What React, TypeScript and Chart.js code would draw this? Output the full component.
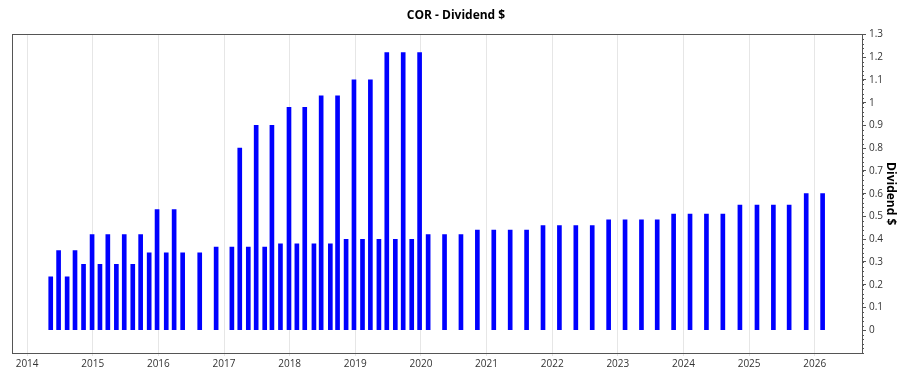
import React, { useEffect, useRef } from "react";
import { Chart, registerables } from "chart.js";

Chart.register(...registerables);

const TITLE = "COR - Dividend $";
const Y_TITLE = "Dividend $";

// payment dates as decimal years
const payDates = [
  2014.36, 2014.48, 2014.61, 2014.73, 2014.86, 2014.99, 2015.11, 2015.23, 2015.36, 2015.48,
  2015.61, 2015.73, 2015.86, 2015.98, 2016.12, 2016.24, 2016.37, 2016.63, 2016.88, 2017.12,
  2017.24, 2017.37, 2017.49, 2017.62, 2017.73, 2017.86, 2017.99, 2018.11, 2018.23, 2018.37,
  2018.48, 2018.62, 2018.73, 2018.86, 2018.98, 2019.11, 2019.23, 2019.36, 2019.48, 2019.61,
  2019.73, 2019.86, 2019.98, 2020.11, 2020.36, 2020.61, 2020.86, 2021.11, 2021.36, 2021.61,
  2021.86, 2022.11, 2022.36, 2022.61, 2022.86, 2023.11, 2023.36, 2023.6, 2023.85, 2024.1,
  2024.35, 2024.6, 2024.86, 2025.12, 2025.37, 2025.61, 2025.87, 2026.12,
];

const dividends = [
  0.235, 0.35, 0.235, 0.35, 0.29, 0.42, 0.29, 0.42, 0.29, 0.42,
  0.29, 0.42, 0.34, 0.53, 0.34, 0.53, 0.34, 0.34, 0.365, 0.365,
  0.8, 0.365, 0.9, 0.365, 0.9, 0.38, 0.98, 0.38, 0.98, 0.38,
  1.03, 0.38, 1.03, 0.4, 1.1, 0.4, 1.1, 0.4, 1.22, 0.4,
  1.22, 0.4, 1.22, 0.42, 0.42, 0.42, 0.44, 0.44, 0.44, 0.44,
  0.46, 0.46, 0.46, 0.46, 0.485, 0.485, 0.485, 0.485, 0.51, 0.51,
  0.51, 0.51, 0.55, 0.55, 0.55, 0.55, 0.6, 0.6,
];

const yearTicks = [2014, 2015, 2016, 2017, 2018, 2019, 2020, 2021, 2022, 2023, 2024, 2025, 2026];
const yTicks = [0, 0.1, 0.2, 0.3, 0.4, 0.5, 0.6, 0.7, 0.8, 0.9, 1, 1.1, 1.2, 1.3];

const framePlugin = {
  id: "frame",
  afterDraw(chart: any) {
    const { ctx, chartArea } = chart;
    ctx.save();
    ctx.strokeStyle = "#555";
    ctx.lineWidth = 1;
    ctx.strokeRect(
      Math.round(chartArea.left) + 0.5,
      Math.round(chartArea.top) + 0.5,
      Math.round(chartArea.right - chartArea.left),
      Math.round(chartArea.bottom - chartArea.top)
    );
    // minor ticks on the right axis
    const y = chart.scales.y;
    ctx.beginPath();
    for (let v = y.min; v <= y.max + 1e-9; v += 0.02) {
      const py = Math.round(y.getPixelForValue(v)) + 0.5;
      ctx.moveTo(y.left, py);
      ctx.lineTo(y.left + 2, py);
    }
    ctx.stroke();
    ctx.restore();
  },
};

export default function App() {
  const ref = useRef<HTMLCanvasElement>(null);

  useEffect(() => {
    if (!ref.current) return;
    const font = "'Open Sans', 'Noto Sans', sans-serif";
    const chart = new Chart(ref.current, {
      type: "bar",
      data: {
        datasets: [
          {
            label: Y_TITLE,
            data: payDates.map((d, i) => ({ x: d, y: dividends[i] })),
            backgroundColor: "#0000FF",
            borderWidth: 0,
            barThickness: 4,
          },
        ],
      },
      options: {
        animation: false,
        responsive: false,
        layout: { padding: { left: 12, right: 0, top: 0, bottom: 0 } },
        plugins: {
          legend: { display: false },
          tooltip: { enabled: false },
          title: {
            display: true,
            text: TITLE,
            color: "#000",
            font: { family: font, size: 12, weight: "bold" },
            padding: { top: 8, bottom: 12 },
          },
        },
        scales: {
          x: {
            type: "linear",
            offset: false,
            min: 2013.77,
            max: 2026.72,
            afterBuildTicks: (s: any) => {
              s.ticks = yearTicks.map((v) => ({ value: v }));
            },
            afterFit: (s: any) => {
              s.height = 22;
            },
            ticks: {
              color: "#333",
              font: { family: font, size: 10 },
              padding: 2,
              maxRotation: 0,
              callback: (v: any) => String(v),
            },
            grid: { color: "#e6e6e6", tickLength: 3, drawOnChartArea: true, offset: false },
            border: { display: true, color: "#555" },
          },
          y: {
            position: "right",
            min: -0.1,
            max: 1.3,
            afterBuildTicks: (s: any) => {
              s.ticks = yTicks.map((v) => ({ value: v }));
            },
            afterFit: (s: any) => {
              s.width = 38;
            },
            ticks: {
              color: "#333",
              font: { family: font, size: 10 },
              padding: 3,
              callback: (v: any) => String(Math.round(Number(v) * 10) / 10),
            },
            grid: { drawOnChartArea: false, tickLength: 4, color: "#555" },
            border: { display: true, color: "#555" },
            title: {
              display: true,
              text: Y_TITLE,
              color: "#000",
              font: { family: font, size: 12, weight: "bold" },
              padding: { top: 2, bottom: 2 },
            },
          },
        },
      },
      plugins: [framePlugin],
    } as any);
    return () => chart.destroy();
  }, []);

  return (
    <div style={{ position: "absolute", left: 0, top: 0, width: 900, height: 375, background: "#fff" }}>
      <canvas ref={ref} width={900} height={375} style={{ display: "block" }} />
    </div>
  );
}
